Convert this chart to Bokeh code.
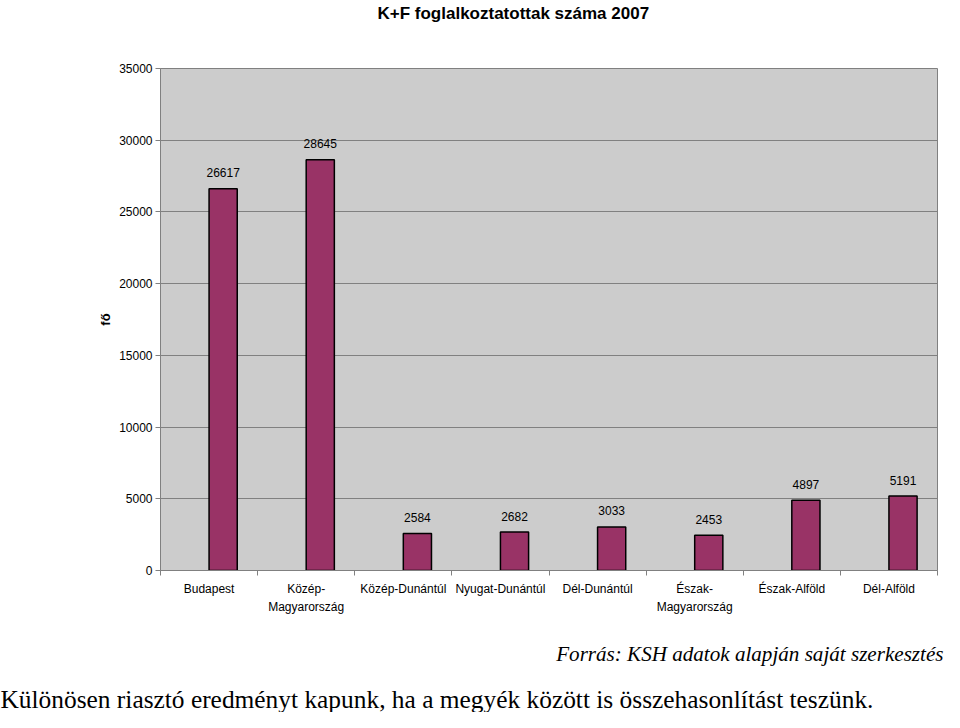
from bokeh.plotting import figure
from bokeh.models import ColumnDataSource, Range1d, FixedTicker, Title
from bokeh.transform import dodge
from bokeh.embed import file_html
from bokeh.resources import INLINE

categories = ["Budapest", "Közép-\nMagyarország", "Közép-Dunántúl", "Nyugat-Dunántúl",
              "Dél-Dunántúl", "Észak-\nMagyarország", "Észak-Alföld", "Dél-Alföld"]
values = [26617, 28645, 2584, 2682, 3033, 2453, 4897, 5191]
y_ticks = [0, 5000, 10000, 15000, 20000, 25000, 30000, 35000]
title_text = "K+F foglalkoztatottak száma 2007"
y_label = "fő"
source_text = "Forrás: KSH adatok alapján saját szerkesztés"
body_text = "Különösen riasztó eredményt kapunk, ha a megyék között is összehasonlítást teszünk."

W, H = 944, 712
L, R, T, B = 160, 7, 68, 142

idx = list(range(len(categories)))
src = ColumnDataSource(dict(x=idx, v=values, lab=[str(v) for v in values]))

p = figure(width=W, height=H, output_backend="svg", toolbar_location=None,
           x_range=Range1d(-0.5, len(categories) - 0.5), y_range=Range1d(0, 35000),
           min_border_left=L, min_border_right=R, min_border_top=T, min_border_bottom=B)

p.background_fill_color = "#cccccc"
p.border_fill_color = "white"
p.outline_line_color = "#808080"
p.outline_line_width = 1

p.vbar(x=dodge("x", 0.145, range=p.x_range), top="v", width=0.29, bottom=0, source=src,
       fill_color="#993366", line_color="black", line_width=1.5)
p.text(x=dodge("x", 0.145, range=p.x_range), y="v", text="lab", source=src,
       text_align="center", text_baseline="middle", y_offset=-16,
       text_font={"value": "Liberation Sans"}, text_font_size="12px", text_color="black")

p.xgrid.visible = False
p.ygrid.ticker = FixedTicker(ticks=y_ticks)
p.ygrid.grid_line_color = "#808080"
p.ygrid.grid_line_width = 1

p.yaxis.ticker = FixedTicker(ticks=y_ticks)
p.yaxis.axis_line_color = "#808080"
p.yaxis.major_tick_line_color = "#808080"
p.yaxis.major_tick_out = 5
p.yaxis.major_tick_in = 0
p.yaxis.minor_tick_line_color = None
p.yaxis.major_label_standoff = 3
p.yaxis.major_label_text_font = "Liberation Sans"
p.yaxis.major_label_text_font_size = "12px"
p.yaxis.major_label_text_color = "black"
p.yaxis.axis_label = y_label
p.yaxis.axis_label_standoff = 3
p.yaxis.axis_label_text_font = "Liberation Sans"
p.yaxis.axis_label_text_font_style = "bold"
p.yaxis.axis_label_text_font_size = "13px"
p.yaxis.axis_label_text_color = "black"

p.xaxis.ticker = FixedTicker(ticks=idx, minor_ticks=[i - 0.5 for i in range(len(categories) + 1)])
p.xaxis.major_label_overrides = {i: c for i, c in zip(idx, categories)}
p.xaxis.axis_line_color = "#808080"
p.xaxis.major_tick_line_color = None
p.xaxis.minor_tick_line_color = "#808080"
p.xaxis.minor_tick_out = 5
p.xaxis.minor_tick_in = 0
p.xaxis.major_tick_out = 5
p.xaxis.major_label_standoff = 6
p.xaxis.major_label_text_font = "Liberation Sans"
p.xaxis.major_label_text_font_size = "12px"
p.xaxis.major_label_text_color = "black"
p.xaxis.major_label_text_line_height = 1.35

# title (trailing blank lines lift it to the top of the border)
p.title.text = title_text + "\n\n\n"
p.title.align = "left"
p.title.offset = 217
p.title.standoff = 0
p.title.text_line_height = 0.8
p.title.text_font = "Liberation Sans"
p.title.text_font_style = "bold"
p.title.text_font_size = "17px"
p.title.text_color = "black"

# footer texts
p.add_layout(Title(text=source_text, align="right", offset=-6, standoff=44.6,
                   text_font="Liberation Serif", text_font_style="italic",
                   text_font_size="21.1px", text_color="black"), "below")
p.add_layout(Title(text=body_text, align="left", offset=-160, standoff=-11,
                   text_font="Liberation Serif", text_font_style="normal",
                   text_font_size="25.4px", text_color="black"), "below")

open("out.html", "w").write(file_html(p, INLINE))
